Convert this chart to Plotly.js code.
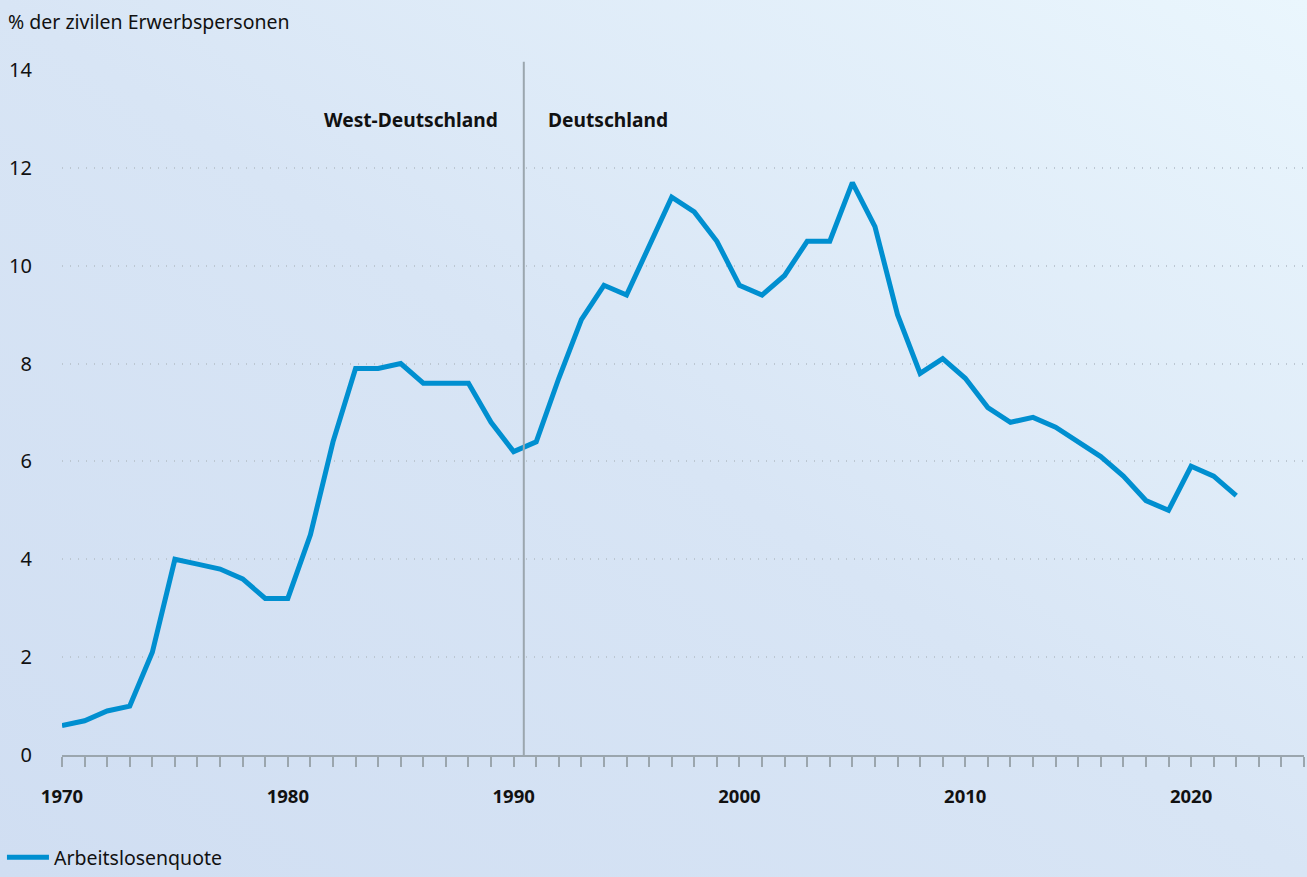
<!DOCTYPE html>
<html>
<head>
<meta charset="utf-8">
<script src="https://cdn.plot.ly/plotly-3.0.1.min.js"></script>
<style>
html, body { margin: 0; padding: 0; }
#chart { width: 1307px; height: 877px; background: linear-gradient(to top right, #d0def2 0%, #d8e5f5 50%, #eaf6fd 100%); }
</style>
</head>
<body>
<div id="chart"></div>
<script>
const years = [1970,1971,1972,1973,1974,1975,1976,1977,1978,1979,1980,1981,1982,1983,1984,1985,1986,1987,1988,1989,
  1990,1991,1992,1993,1994,1995,1996,1997,1998,1999,2000,2001,2002,2003,2004,2005,2006,2007,2008,2009,
  2010,2011,2012,2013,2014,2015,2016,2017,2018,2019,2020,2021,2022];
const arbeitslosenquote = [0.6,0.7,0.9,1.0,2.1,4.0,3.9,3.8,3.6,3.2,3.2,4.5,6.4,7.9,7.9,8.0,7.6,7.6,7.6,6.8,
  6.2,6.4,7.7,8.9,9.6,9.4,10.4,11.4,11.1,10.5,9.6,9.4,9.8,10.5,10.5,11.7,10.8,9.0,7.8,8.1,
  7.7,7.1,6.8,6.9,6.7,6.4,6.1,5.7,5.2,5.0,5.9,5.7,5.3];
const seriesName = 'Arbeitslosenquote';
const yTitle = '% der zivilen Erwerbspersonen';
const xTickVals = [1970,1980,1990,2000,2010,2020];
const yTickVals = [0,2,4,6,8,10,12,14];
const reunification = 1990.45;
const regionLabels = ['West-Deutschland','Deutschland'];

const FONT = 'Noto Sans, Open Sans, sans-serif';
const AXIS = '#9ba6ae';

const trace = {
  x: years, y: arbeitslosenquote, type: 'scatter', mode: 'lines', name: seriesName,
  line: {color: '#008fd0', width: 5, shape: 'linear'}, hoverinfo: 'x+y'
};

const layout = {
  width: 1307, height: 877,
  paper_bgcolor: 'rgba(0,0,0,0)', plot_bgcolor: 'rgba(0,0,0,0)',
  margin: {l: 62, r: 3, t: 70, b: 122},
  font: {family: FONT, size: 19, color: '#111'},
  title: {text: yTitle, xref: 'container', yref: 'container', x: 8/1307, xanchor: 'left', y: 1 - 22/877, yanchor: 'middle',
    font: {family: FONT, size: 19.5, color: '#111'}},
  showlegend: true,
  legend: {orientation: 'h', xref: 'container', yref: 'container', x: 0.0015, xanchor: 'left', y: -0.008, yanchor: 'bottom',
    font: {family: FONT, size: 19.5, color: '#111'}, bgcolor: 'rgba(0,0,0,0)', itemwidth: 42},
  xaxis: {
    range: [1970, 2025], tickvals: xTickVals, ticktext: xTickVals.map(String),
    showgrid: false, zeroline: false, showline: true, linecolor: AXIS, linewidth: 2,
    ticks: 'outside', ticklen: 10, tickwidth: 2, tickcolor: AXIS, ticklabelstandoff: 14,
    tickfont: {family: FONT, size: 18.5, color: '#111', weight: 'bold'},
    minor: {dtick: 1, tick0: 1970, ticks: 'outside', ticklen: 10, tickwidth: 2, tickcolor: AXIS, showgrid: false},
    fixedrange: true
  },
  yaxis: {
    range: [0, 14], tickvals: yTickVals, ticktext: yTickVals.map(String),
    showgrid: true, gridcolor: '#bcc7d2', gridwidth: 1.5, griddash: '1px,7px',
    zeroline: false, showline: false, ticks: '', ticklabelstandoff: 29,
    tickfont: {family: FONT, size: 20, color: '#111'}, fixedrange: true
  },
  shapes: [{type: 'line', xref: 'x', yref: 'paper', x0: reunification, x1: reunification, y0: 0, y1: 1.012,
    line: {color: AXIS, width: 2}}],
  annotations: [
    {x: 1989.4, y: 12.98, xref: 'x', yref: 'y', text: regionLabels[0], showarrow: false, xanchor: 'right', yanchor: 'middle',
      font: {family: FONT, size: 19.2, color: '#111', weight: 'bold'}},
    {x: 1991.45, y: 12.98, xref: 'x', yref: 'y', text: regionLabels[1], showarrow: false, xanchor: 'left', yanchor: 'middle',
      font: {family: FONT, size: 19.2, color: '#111', weight: 'bold'}}
  ]
};

Plotly.newPlot('chart', [trace], layout, {displayModeBar: false, staticPlot: false});
</script>
</body>
</html>
